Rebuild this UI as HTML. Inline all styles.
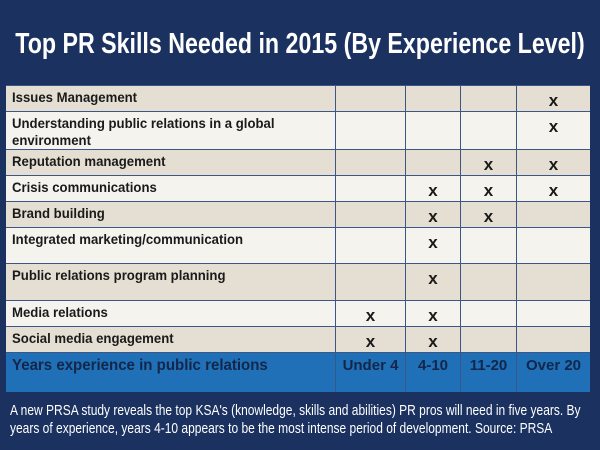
<!DOCTYPE html>
<html><head><style>
body{margin:0;width:600px;height:450px;background:#1b3160;overflow:hidden;position:relative;font-family:"Liberation Sans",sans-serif}
.t{position:absolute;left:300px;top:28px;white-space:nowrap;color:#fff;font-weight:bold;font-size:29px;transform:translateX(-50%) scaleX(0.8);transform-origin:center top}
.row{position:absolute;left:6px;width:584px;}
.c{position:absolute;top:0;bottom:0;border-left:1px solid #3d5688;box-sizing:border-box}
.lab{position:absolute;left:6px;top:3px;font-size:14px;font-weight:bold;color:#1a1a1a;line-height:17px;white-space:nowrap;transform:scaleX(0.94);transform-origin:left top}
.x{position:absolute;top:5px;font-size:17px;font-weight:bold;color:#1a1a1a;width:100%;text-align:center}
.f{position:absolute;left:10px;white-space:nowrap;color:#fff;font-size:15px;transform:scaleX(0.8);transform-origin:left top}
</style></head><body>
<div class="t">Top PR Skills Needed in 2015 (By Experience Level)</div>
<div id="tbl"></div>
<div class="f" style="top:402px">A new PRSA study reveals the top KSA's (knowledge, skills and abilities) PR pros will need in five years. By</div>
<div class="f" style="top:420px">years of experience, years 4-10 appears to be the most intense period of development. Source: PRSA</div>
<script>
var rows=[
["Issues Management",85,111,"d",[0,0,0,1]],
["Understanding public relations in a global<br>environment",111,149,"l",[0,0,0,1]],
["Reputation management",149,175,"d",[0,0,1,1]],
["Crisis communications",175,201,"l",[0,1,1,1]],
["Brand building",201,227,"d",[0,1,1,0]],
["Integrated marketing/communication",227,263,"l",[0,1,0,0]],
["Public relations program planning",263,300,"d",[0,1,0,0]],
["Media relations",300,326,"l",[1,1,0,0]],
["Social media engagement",326,352,"d",[1,1,0,0]]];
var cols=[329,399,454,510,584];
var h="";
rows.forEach(function(r){
 var bg=r[3]=="d"?"#e4dfd2":"#f4f3ee";
 h+='<div class="row" style="top:'+r[1]+'px;height:'+(r[2]-r[1])+'px;background:'+bg+';border-top:1px solid #3d5688;box-sizing:border-box">';
 h+='<div class="lab">'+r[0]+'</div>';
 for(var i=0;i<4;i++){h+='<div class="c" style="left:'+cols[i]+'px;width:'+(cols[i+1]-cols[i])+'px">'+(r[4][i]?'<div class="x">x</div>':'')+'</div>';}
 h+='</div>';
});
h+='<div class="row" style="top:352px;height:40px;background:#1f70b6;border-top:1px solid #3d5688;box-sizing:border-box">';
h+='<div class="lab" style="font-size:16px;color:#14264a;top:4px">Years experience in public relations</div>';
var lb=["Under 4","4-10","11-20","Over 20"];
for(var i=0;i<4;i++){h+='<div class="c" style="left:'+cols[i]+'px;width:'+(cols[i+1]-cols[i])+'px"><div class="x" style="top:4px;font-size:15px;color:#14264a">'+lb[i]+'</div></div>';}
h+='</div>';
document.getElementById("tbl").innerHTML=h;
</script>
</body></html>
